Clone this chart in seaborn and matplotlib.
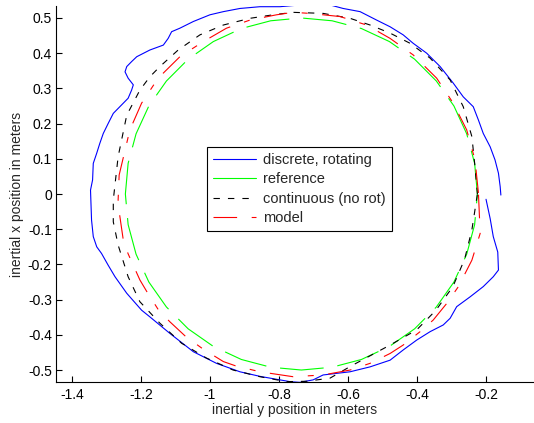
import matplotlib
matplotlib.use("Agg")
import matplotlib.pyplot as plt
from matplotlib.lines import Line2D
import seaborn as sns

# discrete, rotating (blue)
blue_x = [-0.200, -0.188, -0.179, -0.166, -0.164, -0.179, -0.208, -0.246, -0.285, -0.304,
          -0.324, -0.362, -0.401, -0.440, -0.478, -0.536, -0.594, -0.672, -0.701, -0.740,
          -0.768, -0.855, -0.913, -0.981, -1.048, -1.116, -1.174, -1.198, -1.241, -1.275,
          -1.295, -1.314, -1.328, -1.338, -1.343, -1.346, -1.340, -1.338, -1.328, -1.319,
          -1.309, -1.295, -1.280, -1.261, -1.237, -1.227, -1.222, -1.237, -1.246, -1.241,
          -1.227, -1.212, -1.174, -1.135, -1.121, -1.111, -1.087, -1.048, -1.000, -0.961,
          -0.913, -0.855, -0.797, -0.739, -0.652, -0.614, -0.565, -0.517, -0.478, -0.440,
          -0.411, -0.372, -0.333, -0.295, -0.266, -0.237, -0.222, -0.208, -0.188, -0.174,
          -0.164, -0.159, -0.157]
blue_y = [-0.015, -0.070, -0.121, -0.165, -0.216, -0.235, -0.263, -0.292, -0.320, -0.353,
          -0.372, -0.391, -0.415, -0.443, -0.472, -0.491, -0.505, -0.514, -0.528, -0.535,
          -0.533, -0.518, -0.505, -0.481, -0.448, -0.396, -0.349, -0.330, -0.282, -0.235,
          -0.202, -0.169, -0.150, -0.121, -0.074, 0.011, 0.040, 0.087, 0.116, 0.144,
          0.172, 0.200, 0.229, 0.248, 0.272, 0.295, 0.310, 0.329, 0.347, 0.362,
          0.376, 0.390, 0.409, 0.423, 0.442, 0.461, 0.471, 0.490, 0.509, 0.518,
          0.527, 0.532, 0.532, 0.537, 0.537, 0.527, 0.518, 0.494, 0.475, 0.452,
          0.428, 0.400, 0.362, 0.315, 0.276, 0.248, 0.210, 0.172, 0.134, 0.097,
          0.059, 0.021, -0.003]

# reference (green)
ref_x = [-0.225, -0.233, -0.256, -0.293, -0.344, -0.407, -0.480, -0.561, -0.646, -0.735,
         -0.824, -0.909, -0.990, -1.063, -1.126, -1.177, -1.214, -1.237, -1.245, -1.237,
         -1.214, -1.177, -1.126, -1.063, -0.990, -0.909, -0.824, -0.735, -0.646, -0.561,
         -0.480, -0.407, -0.344, -0.293, -0.256, -0.233, -0.225]
ref_y = [0.000, 0.087, 0.171, 0.250, 0.321, 0.383, 0.433, 0.470, 0.492, 0.500,
         0.492, 0.470, 0.433, 0.383, 0.321, 0.250, 0.171, 0.087, 0.000, -0.087,
         -0.171, -0.250, -0.321, -0.383, -0.433, -0.470, -0.492, -0.500, -0.492, -0.470,
         -0.433, -0.383, -0.321, -0.250, -0.171, -0.087, 0.000]

# continuous (no rot) (black)
cont_x = [-0.225, -0.232, -0.241, -0.266, -0.304, -0.362, -0.420, -0.478, -0.536, -0.594,
          -0.672, -0.759, -0.817, -0.884, -0.961, -1.029, -1.092, -1.145, -1.174, -1.203,
          -1.241, -1.266, -1.280, -1.280, -1.266, -1.237, -1.203, -1.145, -1.082, -1.010,
          -0.933, -0.855, -0.778, -0.720, -0.652, -0.590, -0.478, -0.401, -0.345, -0.296,
          -0.262, -0.241, -0.225]
cont_y = [0.000, 0.078, 0.163, 0.248, 0.324, 0.386, 0.428, 0.457, 0.480, 0.499,
          0.513, 0.516, 0.509, 0.499, 0.480, 0.452, 0.409, 0.362, 0.333, 0.295,
          0.224, 0.106, -0.017, -0.079, -0.145, -0.235, -0.306, -0.367, -0.424, -0.466,
          -0.500, -0.519, -0.533, -0.532, -0.523, -0.488, -0.429, -0.386, -0.330, -0.263,
          -0.185, -0.102, 0.000]

# model (red)
model_x = [-0.222, -0.232, -0.256, -0.295, -0.343, -0.411, -0.478, -0.546, -0.623, -0.710,
           -0.759, -0.807, -0.884, -0.952, -1.019, -1.087, -1.150, -1.198, -1.232, -1.263,
           -1.266, -1.263, -1.251, -1.237, -1.203, -1.183, -1.148, -1.116, -1.070, -1.019,
           -0.961, -0.926, -0.855, -0.759, -0.672, -0.594, -0.536, -0.478, -0.440, -0.391,
           -0.353, -0.314, -0.280, -0.241, -0.217, -0.222]
model_y = [0.003, 0.097, 0.182, 0.258, 0.329, 0.395, 0.442, 0.480, 0.504, 0.513,
           0.516, 0.509, 0.494, 0.471, 0.433, 0.390, 0.329, 0.258, 0.182, 0.054,
           -0.017, -0.050, -0.131, -0.170, -0.244, -0.277, -0.331, -0.363, -0.405, -0.441,
           -0.476, -0.488, -0.505, -0.519, -0.514, -0.500, -0.481, -0.453, -0.429, -0.391,
           -0.358, -0.311, -0.263, -0.188, -0.112, 0.003]

labels = ["discrete, rotating", "reference", "continuous (no rot)", "model"]

sns.set_style("white")
plt.rcParams["font.family"] = ["Liberation Sans", "DejaVu Sans"]
plt.rcParams["lines.scale_dashes"] = False
plt.rcParams["xtick.direction"] = "in"
plt.rcParams["ytick.direction"] = "in"

lw = 0.8
fs = 10
ref_ls = (0, (31.5, 10.0))
cont_ls = (0, (4.6, 5.8))
model_ls = (0, (17.0, 10.5, 4.3, 10.5))

fig = plt.figure(figsize=(5.34, 4.23), dpi=100)
ax = fig.add_axes([56 / 534, 41 / 423, 478 / 534, 376 / 423])

sns.lineplot(x=blue_x, y=blue_y, sort=False, estimator=None, color="#0000ff", linewidth=lw, ax=ax)
sns.lineplot(x=ref_x, y=ref_y, sort=False, estimator=None, color="#00ff00", linewidth=lw,
             linestyle=ref_ls, ax=ax)
sns.lineplot(x=cont_x, y=cont_y, sort=False, estimator=None, color="black", linewidth=lw,
             linestyle=cont_ls, ax=ax)
sns.lineplot(x=model_x, y=model_y, sort=False, estimator=None, color="#ff0000", linewidth=lw,
             linestyle=model_ls, ax=ax)

ax.set_xlim(-1.446, -0.061)
ax.set_ylim(-0.534, 0.534)
ax.set_xticks([-1.4, -1.2, -1.0, -0.8, -0.6, -0.4, -0.2])
ax.set_xticklabels(["-1.4", "-1.2", "-1", "-0.8", "-0.6", "-0.4", "-0.2"])
yt = [-0.5, -0.4, -0.3, -0.2, -0.1, 0, 0.1, 0.2, 0.3, 0.4, 0.5]
ax.set_yticks(yt)
ax.set_yticklabels(["-0.5", "-0.4", "-0.3", "-0.2", "-0.1", "0", "0.1", "0.2", "0.3", "0.4", "0.5"])
ax.tick_params(bottom=True, left=True, top=False, right=False, labelsize=fs, length=4,
               width=0.8, pad=4, color="black", labelcolor="black")
ax.tick_params(axis="y", pad=3)

for side in ["top", "right"]:
    ax.spines[side].set_visible(False)
for side in ["left", "bottom"]:
    ax.spines[side].set_color("black")
    ax.spines[side].set_linewidth(0.8)

ax.set_xlabel("inertial y position in meters", fontsize=fs, labelpad=1)
ax.set_ylabel("inertial x position in meters", fontsize=fs, labelpad=3)

handles = [
    Line2D([], [], color="#0000ff", linewidth=lw),
    Line2D([], [], color="#00ff00", linewidth=lw),
    Line2D([], [], color="black", linewidth=lw, linestyle=cont_ls),
    Line2D([], [], color="#ff0000", linewidth=lw, linestyle=model_ls),
]
leg = ax.legend(handles, labels, loc="upper left", bbox_to_anchor=(0.3165, 0.625),
                borderaxespad=0, fancybox=False, framealpha=1, edgecolor="black",
                fontsize=10.5, handlelength=2.95, handletextpad=0.45, labelspacing=0.36,
                borderpad=0.42)
leg.get_frame().set_linewidth(0.8)

fig.savefig("out.png", dpi=100)
